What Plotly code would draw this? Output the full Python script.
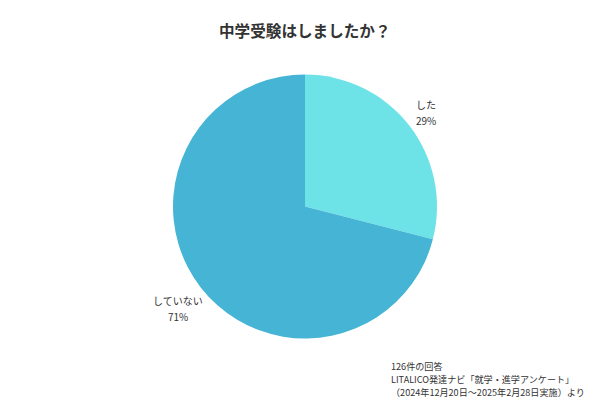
import plotly.graph_objects as go

labels = ["した", "していない"]
values = [29, 71]
colors = ["#6de3e8", "#45b4d5"]
title = "中学受験はしましたか？"
footer = ["126件の回答", "LITALICO発達ナビ「就学・進学アンケート」", "（2024年12月20日～2025年2月28日実施）より"]

FONT = "Noto Sans CJK JP"

fig = go.Figure(go.Pie(
    labels=labels, values=values, sort=False, direction="clockwise", rotation=0,
    marker=dict(colors=colors, line=dict(width=0)),
    textinfo="none", hoverinfo="label+percent", showlegend=False,
    domain=dict(x=[173/600, 437/600], y=[61/400, 326/400]),
))

def px2paper(px, py):
    return px / 600, 1 - py / 400

anns = []
label_pos = [(426, 104), (178, 300)]
for lab, v, (px, py) in zip(labels, values, label_pos):
    for i, t in enumerate([lab, f"{v}%"]):
        x, y = px2paper(px, py + i * 16)
        anns.append(dict(x=x, y=y, xref="paper", yref="paper", showarrow=False,
                         text=t, font=dict(family=FONT, size=10, color="#333"),
                         xanchor="center", yanchor="middle"))
x, y = px2paper(305, 30)
anns.append(dict(x=x, y=y, xref="paper", yref="paper", showarrow=False,
                 text=f"<b>{title}</b>", font=dict(family=FONT, size=15.6, color="#333"),
                 xanchor="center", yanchor="middle"))
for i, t in enumerate(footer):
    x, y = px2paper(389, 365.5 + i * 13.2)
    anns.append(dict(x=x, y=y, xref="paper", yref="paper", showarrow=False,
                     text=t, font=dict(family=FONT, size=9.1, color="#333"),
                     xanchor="left", yanchor="middle"))

fig.update_layout(width=600, height=400, margin=dict(l=0, r=0, t=0, b=0),
                  paper_bgcolor="white", plot_bgcolor="white", annotations=anns,
                  font=dict(family=FONT))
fig.write_html("out.html", config={"displayModeBar": False},
               post_script="document.body.style.margin='0';")
